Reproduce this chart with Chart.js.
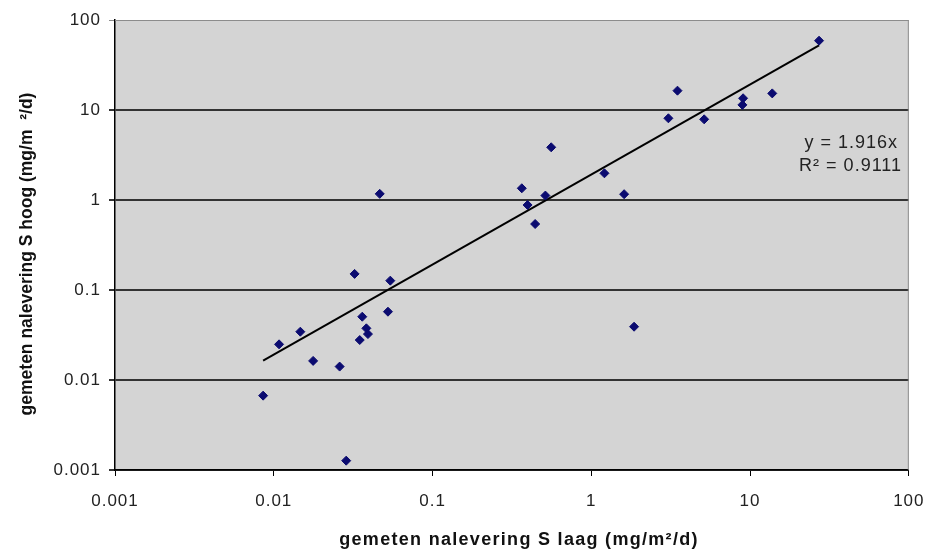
<!DOCTYPE html>
<html>
<head>
<meta charset="utf-8">
<script src="https://cdn.jsdelivr.net/npm/chart.js@4/dist/chart.umd.min.js"></script>
<style>
  html, body { margin: 0; padding: 0; background: #fff; }
  #wrap { width: 938px; height: 557px; }
</style>
</head>
<body>
<div id="wrap"><canvas id="scatter"></canvas></div>
<script>
// gemeten nalevering S: laag (x) tegen hoog (y), mg/m2/d
const laag = [0.0323, 0.0542, 0.0361, 0.0524, 0.0383, 0.0392, 0.0348, 0.0147, 0.0108, 0.0177,
              0.026, 0.00857, 0.0286, 0.0465, 0.559, 1.21, 0.365, 0.514, 1.61, 0.397,
              0.443, 27.2, 3.49, 13.8, 9.04, 8.95, 3.06, 5.14, 1.86];
const hoog = [0.151, 0.127, 0.0505, 0.0574, 0.0375, 0.0324, 0.0278, 0.0344, 0.0249, 0.0163,
              0.0141, 0.0067, 0.00127, 1.17, 3.85, 1.98, 1.35, 1.12, 1.16, 0.88,
              0.541, 58.9, 16.4, 15.3, 13.5, 11.4, 8.09, 7.88, 0.0391];

const decades = [0.001, 0.01, 0.1, 1, 10, 100];
const slope = 1.916;
const r2 = 0.9111;
const xTitle = 'gemeten nalevering S laag (mg/m\u00b2/d)';
const yTitle = 'gemeten nalevering S hoog (mg/m  \u00b2/d)';

const points = laag.map((x, i) => ({x: x, y: hoog[i]}));
const xMin = Math.min(...laag);
const xMax = Math.max(...laag);
const trend = [{x: xMin, y: slope * xMin}, {x: xMax, y: slope * xMax}];

const FONT = '"Liberation Sans", Arial, sans-serif';

// grey plot area, frame, axis titles and the regression text
const plotBg = {
  id: 'plotBg',
  beforeDraw(chart) {
    const {ctx, chartArea: a} = chart;
    ctx.save();
    ctx.fillStyle = '#d4d4d4';
    ctx.fillRect(a.left, a.top, a.right - a.left, a.bottom - a.top);
    ctx.restore();
    // wide-set text for the tick labels
    ctx.letterSpacing = '1px';
  },
  afterDraw(chart) {
    const {ctx, chartArea: a} = chart;
    ctx.save();
    ctx.strokeStyle = '#8c8c8c';
    ctx.lineWidth = 1;
    ctx.beginPath();
    ctx.moveTo(a.left, a.top + 0.5);
    ctx.lineTo(a.right - 0.5, a.top + 0.5);
    ctx.lineTo(a.right - 0.5, a.bottom);
    ctx.stroke();

    ctx.fillStyle = '#222';
    ctx.font = '18px ' + FONT;
    ctx.letterSpacing = '1px';
    ctx.textAlign = 'right';
    ctx.textBaseline = 'middle';
    ctx.fillText('y = ' + slope + 'x', 898, 143);
    ctx.fillText('R\u00b2 = ' + r2, 902, 166);

    ctx.fillStyle = '#111';
    ctx.font = 'bold 18px ' + FONT;
    ctx.letterSpacing = '1.3px';
    ctx.textAlign = 'center';
    ctx.textBaseline = 'alphabetic';
    ctx.fillText(xTitle, 519, 545);

    ctx.letterSpacing = '0px';
    ctx.font = 'bold 17.5px ' + FONT;
    ctx.translate(27, 254);
    ctx.rotate(-Math.PI / 2);
    ctx.textBaseline = 'middle';
    ctx.fillText(yTitle, 0, 0);
    ctx.restore();
    ctx.letterSpacing = '0px';
  }
};

const tickFmt = v => decades.includes(v) ? String(v) : '';
const fixTicks = scale => { scale.ticks = decades.map(v => ({value: v})); };

new Chart('scatter', {
  type: 'scatter',
  data: {
    datasets: [
      {
        data: points,
        pointStyle: 'rectRot',
        pointRadius: 4.5,
        pointHoverRadius: 4.5,
        backgroundColor: '#0b0b70',
        borderColor: '#0b0b70',
        borderWidth: 1
      },
      {
        data: trend,
        showLine: true,
        borderColor: '#000',
        borderWidth: 2,
        pointRadius: 0
      }
    ]
  },
  options: {
    responsive: true,
    maintainAspectRatio: false,
    animation: false,
    layout: { padding: { left: 0, top: 20, right: 28, bottom: 0 } },
    plugins: { legend: { display: false }, tooltip: { enabled: false } },
    scales: {
      x: {
        type: 'logarithmic',
        min: 0.001,
        max: 100,
        afterBuildTicks: fixTicks,
        afterFit: s => { s.height = 87; },
        border: { display: true, color: '#000', width: 1.5 },
        grid: { drawOnChartArea: false, drawTicks: true, tickLength: 6, color: '#000' },
        ticks: {
          callback: tickFmt,
          autoSkip: false,
          maxRotation: 0,
          padding: 15,
          color: '#222',
          font: { family: FONT, size: 17 }
        }
      },
      y: {
        type: 'logarithmic',
        min: 0.001,
        max: 100,
        afterBuildTicks: fixTicks,
        afterFit: s => { s.width = 115; },
        border: { display: true, color: '#000', width: 1.5 },
        grid: {
          drawTicks: true,
          tickLength: 6,
          color: c => c.tick && c.tick.value === 100 ? '#8c8c8c' : '#333',
          lineWidth: c => c.tick && c.tick.value === 100 ? 1 : 2
        },
        ticks: {
          callback: tickFmt,
          autoSkip: false,
          padding: 8,
          color: '#222',
          font: { family: FONT, size: 17 }
        }
      }
    }
  },
  plugins: [plotBg]
});
</script>
</body>
</html>
